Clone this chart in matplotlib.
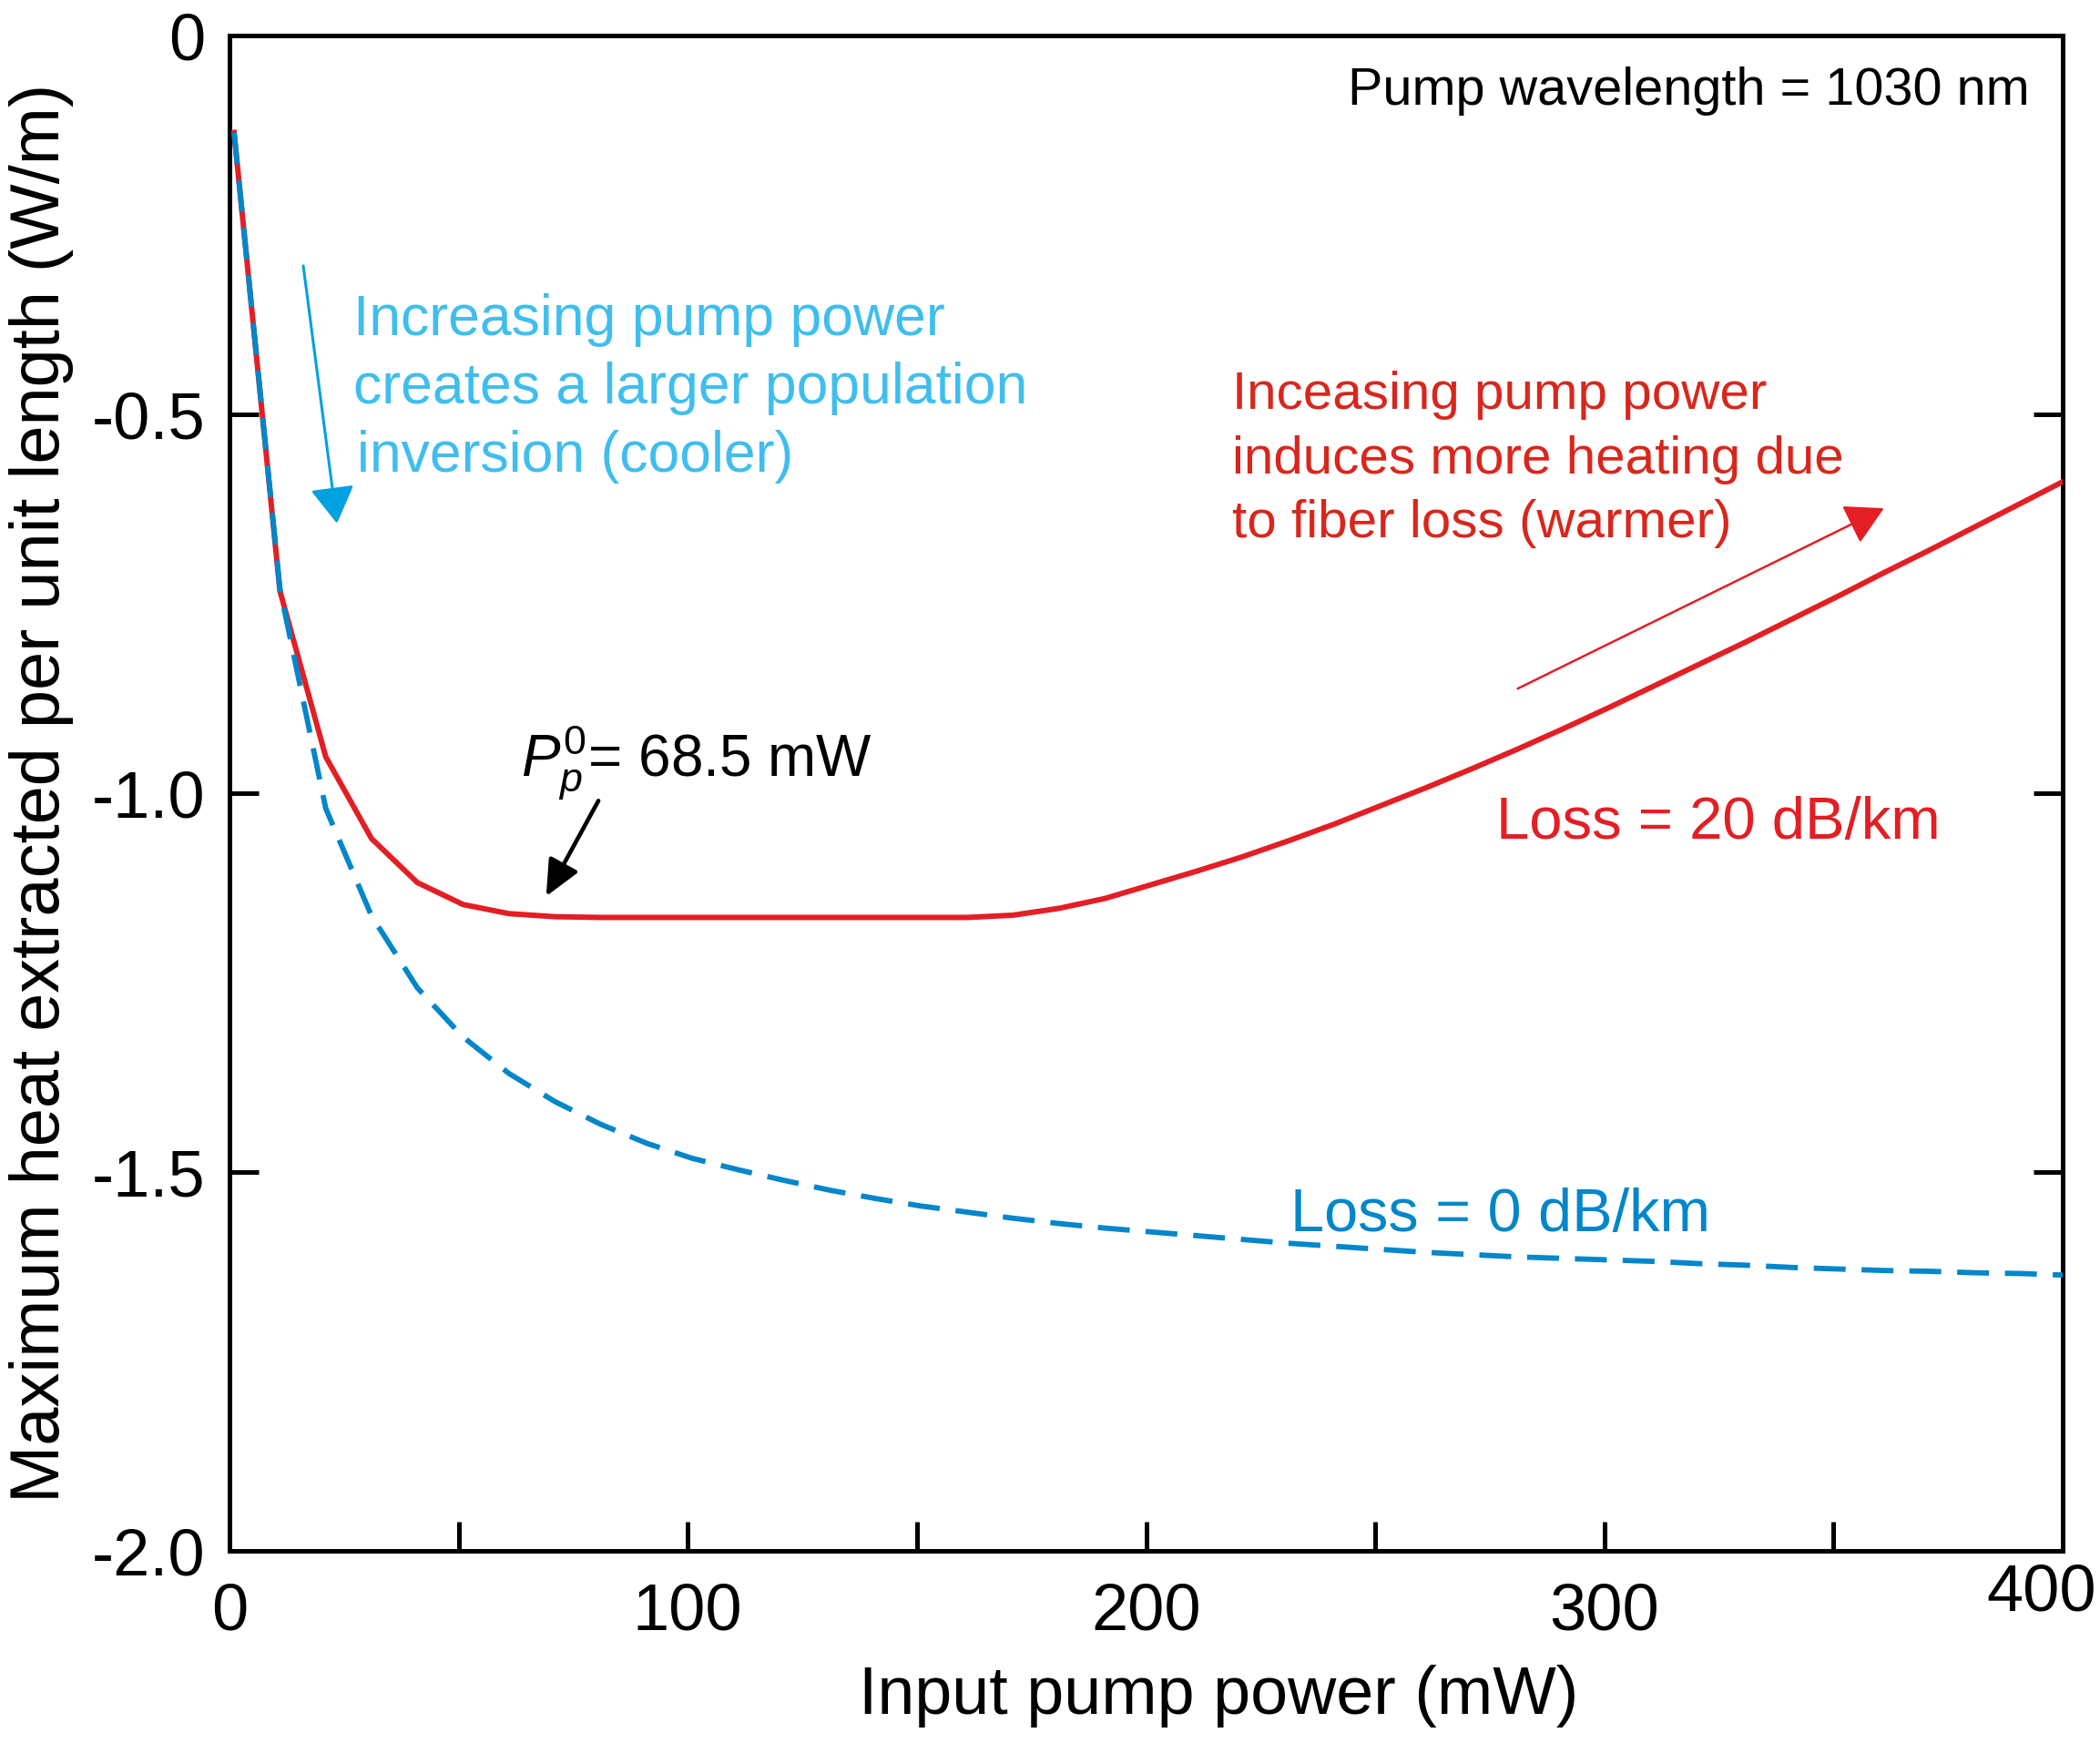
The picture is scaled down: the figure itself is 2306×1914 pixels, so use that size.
import matplotlib
matplotlib.use("Agg")
import matplotlib.pyplot as plt
from matplotlib.patches import ArrowStyle

plt.rcParams['font.family'] = ['Liberation Sans', 'DejaVu Sans']
plt.rcParams['mathtext.fontset'] = 'custom'
plt.rcParams['mathtext.it'] = 'Liberation Sans:italic'
plt.rcParams['mathtext.rm'] = 'Liberation Sans'
plt.rcParams['axes.unicode_minus'] = False

# ---------------- data ----------------
pump_power = [1, 11, 21, 31, 41, 51, 61, 71, 81, 91, 101, 111, 121, 131, 141,
              151, 161, 171, 181, 191, 201, 211, 221, 231, 241, 251, 261, 271,
              281, 291, 301, 311, 321, 331, 341, 351, 361, 371, 381, 391, 400]

heat_loss20 = [-0.128, -0.733, -0.952, -1.060, -1.118, -1.147, -1.159, -1.163,
               -1.164, -1.164, -1.164, -1.164, -1.164, -1.164, -1.164, -1.164,
               -1.164, -1.161, -1.152, -1.139, -1.121, -1.103, -1.084, -1.063,
               -1.041, -1.017, -0.993, -0.968, -0.942, -0.915, -0.887, -0.858,
               -0.829, -0.800, -0.770, -0.740, -0.709, -0.679, -0.648, -0.617,
               -0.589]

heat_loss0 = [-0.128, -0.730, -1.020, -1.162, -1.257, -1.322, -1.370, -1.407,
              -1.437, -1.462, -1.482, -1.497, -1.511, -1.524, -1.535, -1.545,
              -1.553, -1.561, -1.568, -1.574, -1.579, -1.584, -1.589, -1.594,
              -1.598, -1.602, -1.606, -1.609, -1.612, -1.614, -1.616, -1.618,
              -1.621, -1.623, -1.626, -1.628, -1.630, -1.631, -1.633, -1.634,
              -1.636]

x_ticks = [0, 100, 200, 300, 400]
x_tick_labels = ["0", "100", "200", "300", "400"]
x_minor_ticks = [50, 150, 250, 350]
y_ticks = [0, -0.5, -1.0, -1.5, -2.0]
y_tick_labels = ["0", "-0.5", "-1.0", "-1.5", "-2.0"]

# annotation arrows (tail, tip) in data coordinates
blue_arrow = [(16.1, -0.304), (23.45, -0.644)]
red_arrow = [(281.1, -0.862), (361.0, -0.624)]
black_arrow = [(80.5, -1.010), (69.1, -1.136)]

# ---------------- colors ----------------
RED_LINE = '#E31E24'
RED_TEXT = '#D9261C'
BLUE_LINE = '#0086CB'
BLUE_TEXT = '#3FBEEE'
BLUE_ARROW = '#00A0E2'

fig = plt.figure(figsize=(23.06, 19.14), dpi=100)
ax = fig.add_axes([252 / 2306, 211 / 1914, 2013 / 2306, 1664 / 1914])

ax.plot(pump_power, heat_loss20, color=RED_LINE, lw=4.3, solid_joinstyle='miter', zorder=3)
ax.plot(pump_power, heat_loss0, color=BLUE_LINE, lw=4.2, dashes=(6, 3), zorder=4)

ax.set_xlim(0, 400)
ax.set_ylim(-2.0, 0)

for s in ax.spines.values():
    s.set_linewidth(3.6)

# last x label ("400") is drawn separately, shifted as in the reference
ax.set_xticks(x_ticks)
ax.set_xticklabels(x_tick_labels[:-1] + [""])
ax.set_xticks(x_minor_ticks, minor=True)
ax.set_yticks(y_ticks)
ax.set_yticklabels(y_tick_labels)

ax.tick_params(axis='both', which='both', direction='in', length=23, width=3.6,
               top=False, right=True, labelsize=52)
ax.tick_params(axis='x', which='both', pad=24.5)
ax.tick_params(axis='y', which='both', pad=19)

ax.annotate(x_tick_labels[-1], xy=(x_ticks[-1], -2.0), xytext=(-16.5, -10),
            textcoords='offset points', ha='center', va='top', fontsize=52,
            annotation_clip=False)

ax.set_xlabel("Input pump power (mW)", fontsize=53)
ax.xaxis.set_label_coords(0.5395, -0.075)
ax.set_ylabel("Maximum heat extracted per unit length (W/m)", fontsize=54.5)
ax.yaxis.set_label_coords(-0.085, 0.5)

# ---------------- texts ----------------
ax.text(392.8, -0.0913, "Pump wavelength = 1030 nm", fontsize=41.5, color='black',
        ha='right', va='baseline')

blue_lines = ["Increasing pump power", "creates a larger population", "inversion (cooler)"]
blue_x = [27.0, 27.0, 27.8]
blue_y = [-0.3954, -0.4856, -0.5757]
for t, xx, yy in zip(blue_lines, blue_x, blue_y):
    ax.text(xx, yy, t, fontsize=45, color=BLUE_TEXT, ha='left', va='baseline')

red_lines = ["Inceasing pump power", "induces more heating due", "to fiber loss (warmer)"]
red_y = [-0.4928, -0.5781, -0.6623]
for t, yy in zip(red_lines, red_y):
    ax.text(218.8, yy, t, fontsize=42, color=RED_TEXT, ha='left', va='baseline')

ax.text(276.4, -1.0597, "Loss = 20 dB/km", fontsize=47, color=RED_LINE,
        ha='left', va='baseline')
ax.text(231.5, -1.578, "Loss = 0 dB/km", fontsize=48, color=BLUE_LINE,
        ha='left', va='baseline')
ax.text(63.6, -0.977, r"$P_p^0$= 68.5 mW", fontsize=46, color='black',
        ha='left', va='baseline')

# ---------------- arrows ----------------
def arrow(tail, tip, color, lw, hl, hw):
    ax.annotate('', xy=tip, xytext=tail,
                arrowprops=dict(arrowstyle=ArrowStyle('-|>', head_length=hl, head_width=hw),
                                mutation_scale=1, color=color, lw=lw,
                                shrinkA=0, shrinkB=0))

arrow(blue_arrow[0], blue_arrow[1], BLUE_ARROW, 2.2, 25, 15)
arrow(red_arrow[0], red_arrow[1], RED_LINE, 1.8, 26, 14.4)
arrow(black_arrow[0], black_arrow[1], 'black', 3.3, 24, 11)

fig.savefig('out.png', dpi=100)
